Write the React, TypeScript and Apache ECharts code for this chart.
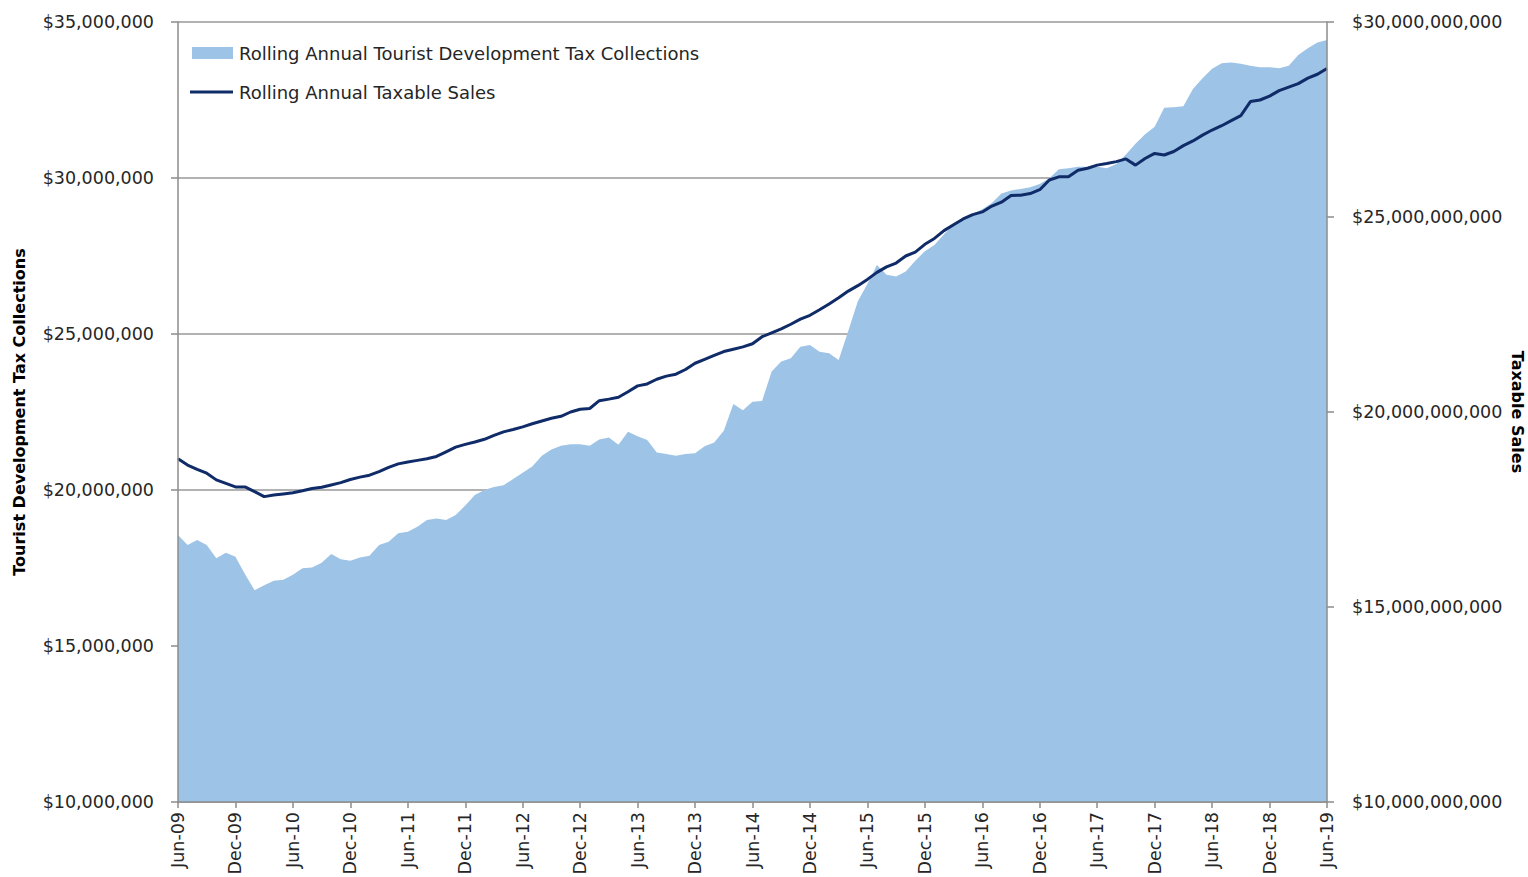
import React, { useEffect, useRef } from "react";
import * as echarts from "echarts";

const MONTH_NAMES = ["Jan", "Feb", "Mar", "Apr", "May", "Jun", "Jul", "Aug", "Sep", "Oct", "Nov", "Dec"];
// Monthly categories Jun-09 .. Jun-19
const categories: string[] = Array.from({ length: 121 }, (_, i) => {
  const m = (5 + i) % 12;
  const y = 9 + Math.floor((5 + i) / 12);
  return `${MONTH_NAMES[m]}-${String(y).padStart(2, "0")}`;
});

// Rolling annual Tourist Development Tax collections, millions of dollars
const taxCollections: number[] = [
  18.56, 18.24, 18.4, 18.24, 17.81, 17.99, 17.86, 17.3, 16.79, 16.95,
  17.09, 17.12, 17.28, 17.49, 17.52, 17.67, 17.95, 17.78, 17.73, 17.84,
  17.89, 18.24, 18.34, 18.61, 18.66, 18.82, 19.04, 19.09, 19.04, 19.2,
  19.5, 19.84, 20.0, 20.1, 20.15, 20.35, 20.55, 20.75, 21.1, 21.3,
  21.42, 21.47, 21.47, 21.42, 21.62, 21.68, 21.45, 21.87, 21.72, 21.6,
  21.2, 21.15, 21.1, 21.15, 21.18, 21.4, 21.52, 21.9, 22.76, 22.56,
  22.83, 22.85, 23.8, 24.12, 24.22, 24.59, 24.65, 24.43, 24.38, 24.17,
  25.1, 26.05, 26.6, 27.21, 26.9, 26.84, 27.0, 27.35, 27.65, 27.85,
  28.2, 28.5, 28.7, 28.85, 29.0, 29.2, 29.5, 29.6, 29.65, 29.7,
  29.81, 29.99, 30.28, 30.31, 30.36, 30.36, 30.36, 30.31, 30.45, 30.75,
  31.1, 31.4, 31.64, 32.25, 32.27, 32.3, 32.85, 33.2, 33.5, 33.68,
  33.7, 33.66, 33.6, 33.55, 33.55, 33.52, 33.6, 33.94, 34.16, 34.34,
  34.42,
];

// Rolling annual taxable sales, billions of dollars
const taxableSales: number[] = [
  18.8, 18.64, 18.53, 18.43, 18.26, 18.17, 18.08, 18.08, 17.96, 17.83,
  17.87, 17.9, 17.93, 17.98, 18.04, 18.07, 18.13, 18.19, 18.27, 18.33,
  18.38, 18.47, 18.58, 18.67, 18.72, 18.76, 18.8, 18.86, 18.98, 19.1,
  19.17, 19.23, 19.3, 19.4, 19.49, 19.55, 19.62, 19.7, 19.77, 19.84,
  19.89, 20.0, 20.07, 20.09, 20.29, 20.33, 20.38, 20.52, 20.67, 20.72,
  20.84, 20.92, 20.97, 21.09, 21.25, 21.35, 21.45, 21.55, 21.61, 21.67,
  21.75, 21.93, 22.03, 22.13, 22.25, 22.38, 22.48, 22.62, 22.77, 22.93,
  23.1, 23.24, 23.4, 23.58, 23.72, 23.82, 24.0, 24.1, 24.3, 24.45,
  24.65, 24.8, 24.95, 25.06, 25.13, 25.28, 25.38, 25.55, 25.56, 25.6,
  25.7, 25.95, 26.03, 26.03, 26.2, 26.25, 26.33, 26.37, 26.42, 26.49,
  26.33, 26.5, 26.63, 26.59, 26.68, 26.83, 26.95, 27.1, 27.23, 27.34,
  27.47, 27.6, 27.96, 28.0, 28.1, 28.24, 28.33, 28.42, 28.56, 28.66,
  28.81,
];

const seriesNames = [
  "Rolling Annual Tourist Development Tax Collections",
  "Rolling Annual Taxable Sales",
];
const leftAxisTitle = "Tourist Development Tax Collections";
const rightAxisTitle = "Taxable Sales";

const FONT = "DejaVu Sans";
const AREA_COLOR = "#9dc3e6";
const LINE_COLOR = "#0f2b68";
const AXIS_COLOR = "#8c8c8c";
const TEXT_COLOR = "#262626";

function dollars(v: number): string {
  const s = Math.round(v).toString().replace(/\B(?=(\d{3})+(?!\d))/g, ",");
  return "$" + s;
}

export default function App() {
  const ref = useRef<HTMLDivElement>(null);

  useEffect(() => {
    if (!ref.current) return;
    const chart = echarts.init(ref.current, undefined, { renderer: "svg" });
    const labelStyle = { fontFamily: FONT, fontSize: 17.5, color: TEXT_COLOR };
    chart.setOption({
      animation: false,
      backgroundColor: "#ffffff",
      grid: { left: 178, right: 201, top: 22, bottom: 75, containLabel: false, outerBoundsMode: "none" },
      xAxis: {
        type: "category",
        data: categories,
        boundaryGap: false,
        z: 5,
        axisLine: { show: true, lineStyle: { color: AXIS_COLOR, width: 1.5 } },
        axisTick: { show: true, interval: 5, length: 6, lineStyle: { color: AXIS_COLOR, width: 1.5 } },
        axisLabel: { ...labelStyle, interval: 5, rotate: 90, margin: 10 },
        splitLine: { show: false },
      },
      yAxis: [
        {
          type: "value",
          position: "left",
          min: 10,
          max: 35,
          interval: 5,
          name: leftAxisTitle,
          nameLocation: "middle",
          nameGap: 151,
          nameTextStyle: { fontFamily: FONT, fontSize: 16, fontWeight: "bold", color: "#000000" },
          axisLine: { show: false },
          axisTick: { show: true, length: 7, lineStyle: { color: AXIS_COLOR, width: 1.5 } },
          axisLabel: { ...labelStyle, margin: 24, formatter: (v: number) => dollars(v * 1e6) },
          splitLine: { show: true, lineStyle: { color: "#999999", width: 1.5 } },
        },
        {
          type: "value",
          position: "right",
          min: 10,
          max: 30,
          interval: 5,
          z: 5,
          name: rightAxisTitle,
          nameLocation: "middle",
          nameRotate: -90,
          nameGap: 182,
          nameMoveOverlap: false,
          nameTextStyle: { fontFamily: FONT, fontSize: 16, fontWeight: "bold", color: "#000000" },
          axisLine: { show: true, lineStyle: { color: AXIS_COLOR, width: 1.5 } },
          axisTick: { show: true, length: 7, lineStyle: { color: AXIS_COLOR, width: 1.5 } },
          axisLabel: { ...labelStyle, margin: 25, formatter: (v: number) => dollars(v * 1e9) },
          splitLine: { show: false },
        },
        {
          type: "value",
          position: "left",
          min: 10,
          max: 35,
          z: 5,
          axisLine: { show: true, lineStyle: { color: AXIS_COLOR, width: 1.5 } },
          axisTick: { show: false },
          axisLabel: { show: false },
          splitLine: { show: false },
        },
      ],
      series: [
        {
          name: seriesNames[0],
          type: "line",
          yAxisIndex: 0,
          data: taxCollections,
          showSymbol: false,
          symbol: "none",
          lineStyle: { width: 0, color: AREA_COLOR },
          itemStyle: { color: AREA_COLOR },
          areaStyle: { color: AREA_COLOR, opacity: 1, origin: "start" },
          z: 2,
        },
        {
          name: seriesNames[1],
          type: "line",
          yAxisIndex: 1,
          data: taxableSales,
          showSymbol: false,
          symbol: "none",
          lineStyle: { width: 3, color: LINE_COLOR },
          itemStyle: { color: LINE_COLOR },
          z: 3,
        },
      ],
      graphic: [
        {
          type: "rect",
          shape: { x: 192, y: 47, width: 41, height: 12 },
          style: { fill: AREA_COLOR },
          z: 10,
        },
        {
          type: "text",
          x: 239,
          y: 53,
          style: { text: seriesNames[0], font: `18px "${FONT}"`, fill: TEXT_COLOR, verticalAlign: "middle" },
          z: 10,
        },
        {
          type: "line",
          shape: { x1: 190, y1: 92, x2: 233, y2: 92 },
          style: { stroke: LINE_COLOR, lineWidth: 3 },
          z: 10,
        },
        {
          type: "text",
          x: 239,
          y: 92,
          style: { text: seriesNames[1], font: `18px "${FONT}"`, fill: TEXT_COLOR, verticalAlign: "middle" },
          z: 10,
        },
      ],
    });
    return () => chart.dispose();
  }, []);

  return (
    <div
      ref={ref}
      style={{ position: "fixed", left: 0, top: 0, width: 1528, height: 877, background: "#fff" }}
    />
  );
}
